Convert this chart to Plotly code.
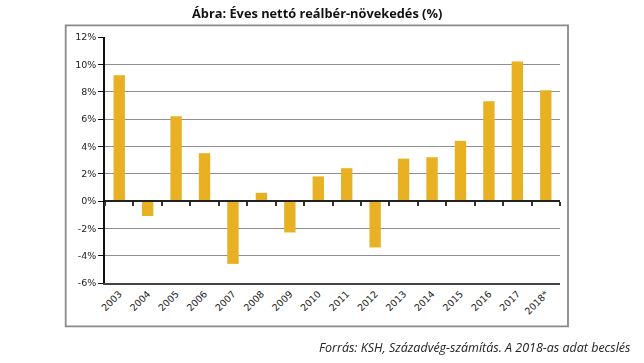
import plotly.graph_objects as go

years = ["2003", "2004", "2005", "2006", "2007", "2008", "2009", "2010",
         "2011", "2012", "2013", "2014", "2015", "2016", "2017", "2018*"]
growth = [9.2, -1.1, 6.2, 3.5, -4.6, 0.6, -2.3, 1.8,
          2.4, -3.4, 3.1, 3.2, 4.4, 7.3, 10.2, 8.1]
y_ticks = [-6, -4, -2, 0, 2, 4, 6, 8, 10, 12]
y_tick_labels = [f"{v}%" for v in y_ticks]

title_text = "Ábra: Éves nettó reálbér-növekedés (%)"
source_text = "Forrás: KSH, Századvég-számítás. A 2018-as adat becslés"

W, H = 644, 363
L, T = 105, 36.7
pw, ph = 455, 246
R, B = W - L - pw, H - T - ph

def px_x(x):
    return (x - L) / pw

def px_y(y):
    return (T + ph - y) / ph

fig = go.Figure()
fig.add_trace(go.Bar(
    x=years, y=growth, marker=dict(color="#E8B023", line=dict(width=0)),
    xaxis="x", yaxis="y", hoverinfo="x+y",
))
fig.add_trace(go.Scatter(
    x=years, y=growth, mode="markers", opacity=0, xaxis="x2", yaxis="y",
    hoverinfo="skip", showlegend=False,
))

tick_font = dict(family="DejaVu Sans", size=9.5, color="#222")

fig.update_layout(
    width=W, height=H,
    margin=dict(l=L, r=R, t=T, b=B),
    paper_bgcolor="white", plot_bgcolor="white",
    showlegend=False, bargap=0.6,
    xaxis=dict(
        type="category", categoryorder="array", categoryarray=years,
        range=[-0.5, len(years) - 0.5],
        showline=True, linecolor="#444", linewidth=1.5,
        ticks="", showgrid=False, zeroline=False,
        tickangle=-45, tickfont=tick_font, automargin=False,
    ),
    xaxis2=dict(
        type="category", categoryorder="array", categoryarray=years,
        range=[-0.5, len(years) - 0.5],
        overlaying="x", anchor="free", position=6 / 18,
        showline=True, linecolor="#222", linewidth=2,
        ticks="outside", tickson="boundaries", ticklen=4, tickwidth=1.5,
        tickcolor="#333", showticklabels=False, showgrid=False, zeroline=False,
    ),
    yaxis=dict(
        range=[-6, 12], tickvals=y_ticks, ticktext=y_tick_labels,
        showline=True, linecolor="#111", linewidth=1.5,
        ticks="outside", ticklen=5, tickcolor="#111", tickwidth=1,
        showgrid=True, gridcolor="#8f8f8f", gridwidth=1.3,
        zeroline=False, tickfont=tick_font, automargin=False,
    ),
    shapes=[dict(
        type="rect", xref="paper", yref="paper",
        x0=px_x(65.7), x1=px_x(568), y0=px_y(326), y1=px_y(25),
        line=dict(color="#8a8a8a", width=1.8), fillcolor="rgba(0,0,0,0)",
        layer="below",
    )],
    annotations=[
        dict(text=f"<b>{title_text}</b>", xref="paper", yref="paper",
             x=px_x(317), y=px_y(13), xanchor="center", yanchor="middle",
             showarrow=False, font=dict(family="Open Sans", size=12.8, color="#111")),
        dict(text=f"<i>{source_text}</i>", xref="paper", yref="paper",
             x=px_x(633), y=px_y(347), xanchor="right", yanchor="middle",
             showarrow=False, font=dict(family="Open Sans", size=12.5, color="#222")),
    ],
)

fig.write_html("out.html", config={"displayModeBar": False},
               post_script="document.body.style.margin='0';")
